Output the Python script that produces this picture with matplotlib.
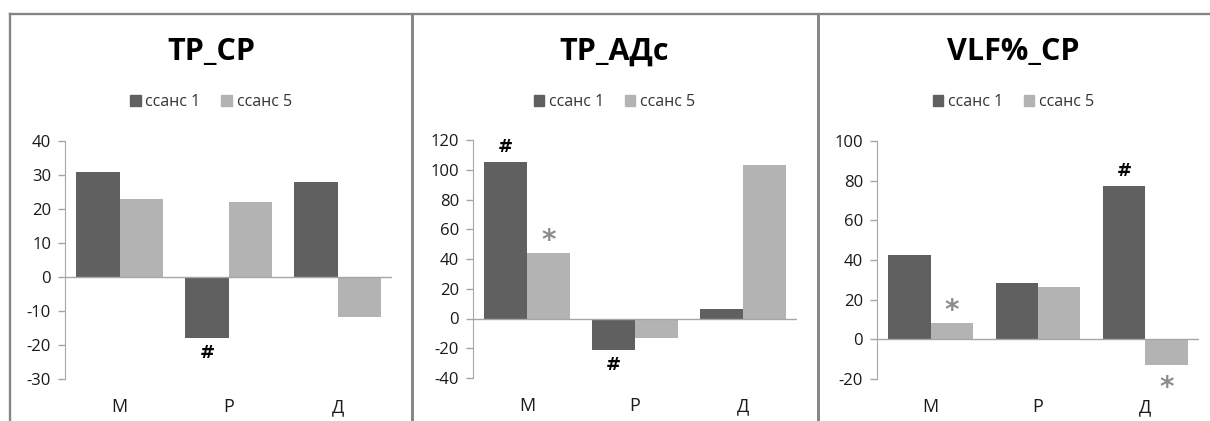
import matplotlib.pyplot as plt
from matplotlib.patches import Patch
from matplotlib.lines import Line2D

plt.rcParams['font.family'] = ['Open Sans', 'DejaVu Sans']
plt.rcParams['axes.unicode_minus'] = False

categories = ['М', 'Р', 'Д']
titles = ['ТР_СР', 'ТР_АДс', 'VLF%_СР']
series_names = ['ссанс 1', 'ссанс 5']

# session 1 / session 5 per panel
tp_cp_s1 = [31, -18, 28]
tp_cp_s5 = [23, 22, -11.7]
tp_ads_s1 = [105, -21, 6.5]
tp_ads_s5 = [44, -13, 103]
vlf_cp_s1 = [42.4, 28.3, 77.3]
vlf_cp_s5 = [8.2, 26.3, -12.8]

ylims = [(-30, 40), (-40, 120), (-20, 100)]
ysteps = [10, 20, 20]

# significance marks: (series index, category index, symbol)
marks = [
    [(0, 1, '#')],
    [(0, 0, '#'), (1, 0, '*'), (0, 1, '#')],
    [(1, 0, '*'), (0, 2, '#'), (1, 2, '*')],
]

DARK = '#606060'
LIGHT = '#b3b3b3'
STAR = '#8c8c8c'
FRAME = '#858585'

W, H = 1210, 421
fig = plt.figure(figsize=(W / 100, H / 100), dpi=100)

# axes boxes in pixels: left, right, top, bottom
boxes = [(65, 392, 141, 379), (473, 797, 140, 378), (877, 1199, 141, 379)]
panel_x = [(10, 412), (412, 817), (817, 1210)]
data = [(tp_cp_s1, tp_cp_s5), (tp_ads_s1, tp_ads_s5), (vlf_cp_s1, vlf_cp_s5)]

bw = 0.395
x = list(range(len(categories)))

for i in range(3):
    l, r, t, b = boxes[i]
    ax = fig.add_axes([l / W, (H - b) / H, (r - l) / W, (b - t) / H])
    s1, s5 = data[i]
    ax.bar([k - bw / 2 for k in x], s1, width=bw, color=DARK, zorder=2)
    ax.bar([k + bw / 2 for k in x], s5, width=bw, color=LIGHT, zorder=2)
    ax.axhline(0, color='#a6a6a6', linewidth=1.0, zorder=3)

    lo, hi = ylims[i]
    ax.set_xlim(-0.5, 2.5)
    ax.set_ylim(lo, hi)
    ax.set_yticks(range(lo, hi + 1, ysteps[i]))
    for side in ['top', 'right', 'bottom']:
        ax.spines[side].set_visible(False)
    ax.spines['left'].set_color('#a6a6a6')
    ax.tick_params(axis='y', colors='#a6a6a6', labelcolor='#1a1a1a',
                   labelsize=12, length=5, width=1.0, pad=5)
    ax.set_xticks(x)
    ax.set_xticklabels(categories, fontsize=13, color='#1a1a1a')
    ax.tick_params(axis='x', length=0, pad=14)

    for si, ci, sym in marks[i]:
        v = (s1, s5)[si][ci]
        xpos = ci - bw / 2 if si == 0 else ci + bw / 2
        off = 11 if v > 0 else -11
        if sym == '#':
            ax.annotate(sym, (xpos, v), xytext=(0, off), textcoords='offset points',
                        ha='center', va='center', fontsize=13, fontweight='bold',
                        color='black', family='DejaVu Sans')
        else:
            ax.annotate(sym, (xpos, v), xytext=(0, off - 2 if v > 0 else off - 6),
                        textcoords='offset points', ha='center', va='center',
                        fontsize=20, fontweight='bold', color=STAR,
                        family='DejaVu Sans')

    px0, px1 = panel_x[i]
    cx = (px0 + px1) / 2 / W
    fig.text(cx, (H - 52) / H, titles[i], ha='center', va='center',
             fontsize=22, fontweight='bold', color='black')
    handles = [Patch(color=DARK, label=series_names[0]),
               Patch(color=LIGHT, label=series_names[1])]
    fig.legend(handles=handles, loc='center', bbox_to_anchor=(cx, (H - 102) / H),
               ncol=2, frameon=False, fontsize=11.5, handlelength=0.65,
               handleheight=0.65, handletextpad=0.3, columnspacing=1.3,
               labelcolor='#333333')

# panel frame lines
frame = [
    ([10 / W, 1.0], [(H - 14) / H, (H - 14) / H]),
    ([10 / W, 10 / W], [0, (H - 14) / H]),
    ([412.5 / W, 412.5 / W], [0, (H - 14) / H]),
    ([817.5 / W, 817.5 / W], [0, (H - 14) / H]),
]
for xs, ys in frame:
    lw = 1.5 if xs[0] == xs[1] and xs[0] > 0.1 else 1.2
    fig.add_artist(Line2D(xs, ys, transform=fig.transFigure, color=FRAME,
                          linewidth=lw * 1.4))

fig.savefig('out.png', dpi=100)
